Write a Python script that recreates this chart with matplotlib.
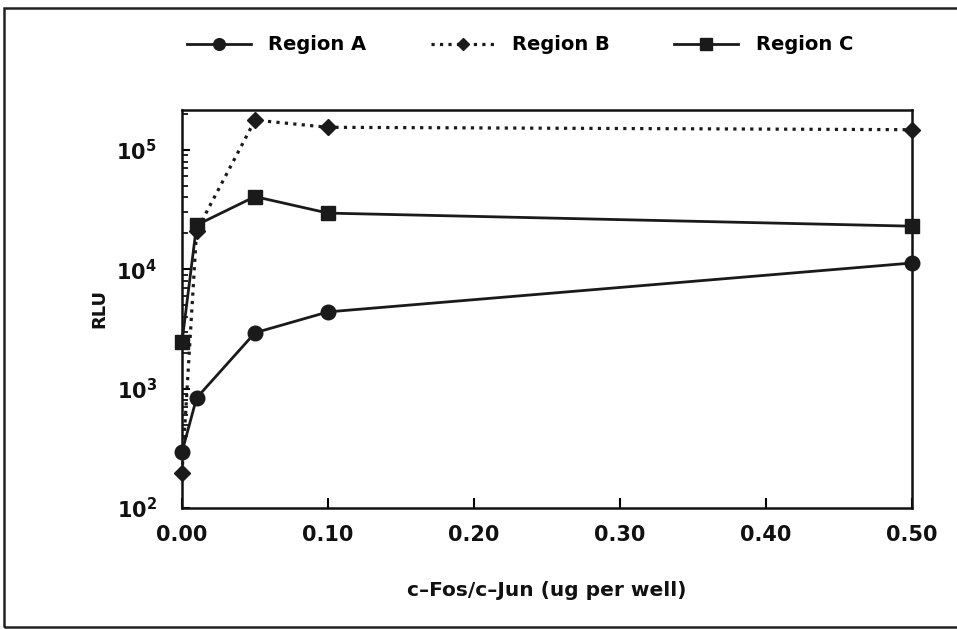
import math
import matplotlib
matplotlib.use("Agg")
import matplotlib.pyplot as plt
from matplotlib.patches import Rectangle
from matplotlib.ticker import FixedLocator, LogLocator, FuncFormatter, NullFormatter

# ---- data ----
x_vals = [0.0, 0.01, 0.05, 0.10, 0.50]
region_a = [295, 836, 2940, 4400, 11300]
region_b = [196, 21000, 178000, 155000, 148000]
region_c = [2460, 23500, 40700, 29600, 23000]
series_names = ["Region A", "Region B", "Region C"]
x_ticks = [0.0, 0.1, 0.2, 0.3, 0.4, 0.5]
x_ticklabels = ["0.00", "0.10", "0.20", "0.30", "0.40", "0.50"]
y_ticks = [1e2, 1e3, 1e4, 1e5]
x_label = "c\u2013Fos/c\u2013Jun (ug per well)"
y_label = "RLU"

plt.rcParams['font.family'] = ['DejaVu Sans']
plt.rcParams['mathtext.default'] = 'regular'

fig = plt.figure(figsize=(9.57, 6.29), dpi=100)
ax = fig.add_axes([182/957, 1-508/629, (912-182)/957, (508-110)/629])

ink = '#1a1a1a'
ax.plot(x_vals, region_a, '-', color=ink, lw=2.0, marker='o', ms=10.5,
        label=series_names[0], clip_on=False, zorder=3)
ax.plot(x_vals, region_b, ':', color=ink, lw=2.3, marker='D', ms=8,
        label=series_names[1], clip_on=False, zorder=3)
ax.plot(x_vals, region_c, '-', color=ink, lw=2.0, marker='s', ms=10.5,
        label=series_names[2], clip_on=False, zorder=3)

ax.set_yscale('log')
ax.set_xlim(0, 0.5)
ax.set_ylim(100, 10**(5 + 40/119.3))

ax.xaxis.set_major_locator(FixedLocator(x_ticks))
ax.set_xticklabels(x_ticklabels)
ax.yaxis.set_major_locator(FixedLocator(y_ticks))
ax.yaxis.set_major_formatter(FuncFormatter(lambda v, p: r'10$^{%d}$' % round(math.log10(v))))
ax.yaxis.set_minor_locator(LogLocator(base=10, subs=range(2, 10)))
ax.yaxis.set_minor_formatter(NullFormatter())

for lab in ax.get_xticklabels() + ax.get_yticklabels():
    lab.set_fontweight('bold')
    lab.set_fontsize(15)
    lab.set_color('#111111')

ax.tick_params(axis='x', which='major', direction='in', length=7, width=1.5, pad=12)
ax.tick_params(axis='y', which='major', direction='in', length=6, width=1.5, pad=18)
ax.tick_params(axis='y', which='minor', direction='in', length=4, width=1.2)
ax.tick_params(top=False, right=False)

for sp in ax.spines.values():
    sp.set_linewidth(1.8)
    sp.set_color('#111111')

ax.set_xlabel(x_label, fontsize=14.5, fontweight='bold', labelpad=26, color='#111111')
ax.set_ylabel(y_label, fontsize=13, fontweight='bold', labelpad=6, color='#111111')

leg = fig.legend(loc='center', bbox_to_anchor=(520/957, 1-45/629), ncol=3,
                 frameon=False, handlelength=3.3, columnspacing=3.3,
                 handletextpad=0.9, markerscale=0.8,
                 prop={'weight': 'bold', 'size': 14})

# outer frame
fig.patches.append(Rectangle((4/957, 2/629), 1.2, (623-4)/629, transform=fig.transFigure,
                             fill=False, lw=1.8, edgecolor='#222222'))

fig.savefig('out.png', dpi=100)
